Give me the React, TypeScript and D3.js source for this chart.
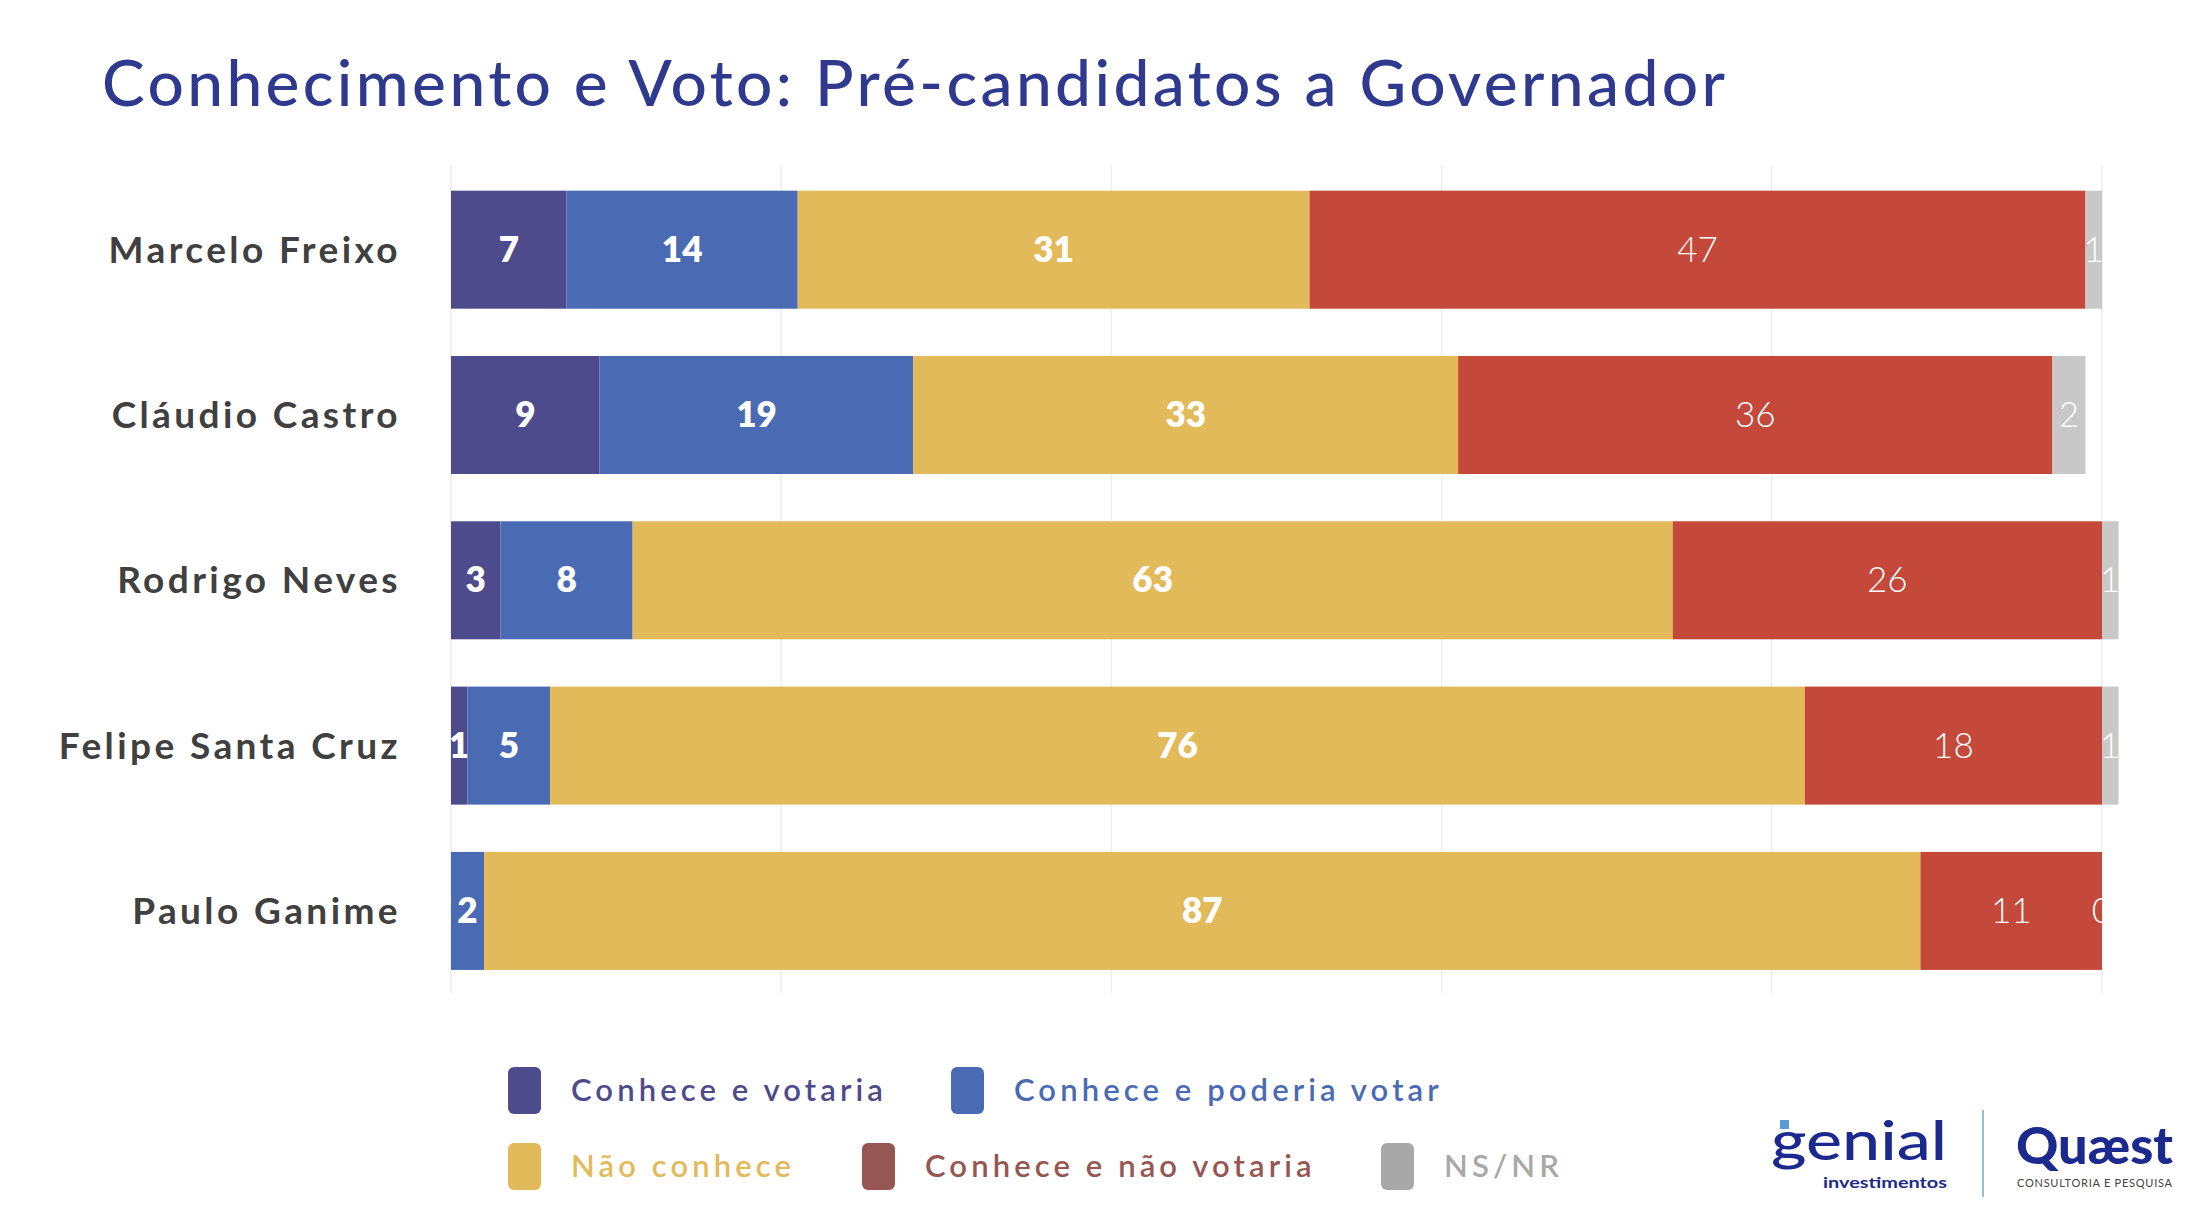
import React from "react";
import * as d3 from "d3";

const categories = ["Marcelo Freixo", "Cláudio Castro", "Rodrigo Neves", "Felipe Santa Cruz", "Paulo Ganime"];
const seriesNames = ["Conhece e votaria", "Conhece e poderia votar", "Não conhece", "Conhece e não votaria", "NS/NR"];
const conheceVotaria = [7, 9, 3, 1, 0];
const conhecePoderia = [14, 19, 8, 5, 2];
const naoConhece = [31, 33, 63, 76, 87];
const conheceNaoVotaria = [47, 36, 26, 18, 11];
const nsnr = [1, 2, 1, 1, 0];
const gridTicks = [0, 20, 40, 60, 80, 100];

const barColors = ["#4E4B8C", "#4A6BB3", "#E3BA5A", "#C4493B", "#C8C8C8"];
const legendColors = ["#4E4B8C", "#4A6BB3", "#E3BA5A", "#965752", "#A8A8A8"];

const W = 2194;
const H = 1218;
const FONT = "Lato, 'Open Sans', sans-serif";

export default function App() {
  const seriesValues = [conheceVotaria, conhecePoderia, naoConhece, conheceNaoVotaria, nsnr];
  const x = d3.scaleLinear().domain([0, 100]).range([451, 2102]);
  const y = d3
    .scaleBand<string>()
    .domain(categories)
    .range([143.4, 1017.2])
    .paddingInner(0.286)
    .paddingOuter(0.286);

  const rows = categories.map((c, i) => {
    const obj: any = { cat: c };
    seriesNames.forEach((s, j) => (obj[s] = seriesValues[j][i]));
    return obj;
  });
  const stacked = d3.stack<any>().keys(seriesNames)(rows);

  const legendItems = [
    { i: 0, x: 508, y: 1090 },
    { i: 1, x: 951, y: 1090 },
    { i: 2, x: 508, y: 1166 },
    { i: 3, x: 862, y: 1166 },
    { i: 4, x: 1381, y: 1166 },
  ];

  return (
    <svg
      width={W}
      height={H}
      viewBox={`0 0 ${W} ${H}`}
      style={{ position: "absolute", left: 0, top: 0, background: "#fff", display: "block" }}
    >
      <rect x={0} y={0} width={W} height={H} fill="#fff" />
      <text
        x={102}
        y={106}
        fontFamily={FONT}
        fontSize={64}
        fontWeight={500}
        fill="#2F3A8F"
        textLength={1623}
        lengthAdjust="spacing"
      >
        Conhecimento e Voto: Pré-candidatos a Governador
      </text>

      {gridTicks.map((t) => (
        <line key={t} x1={x(t)} x2={x(t)} y1={165} y2={993} stroke="#EDEDED" strokeWidth={1.5} />
      ))}

      {categories.map((c) => (
        <text
          key={c}
          x={401}
          y={(y(c) as number) + y.bandwidth() / 2 + 13}
          textAnchor="end"
          fontFamily={FONT}
          fontSize={37}
          fontWeight={700}
          letterSpacing={3.4}
          fill="#404040"
        >
          {c}
        </text>
      ))}

      {stacked.map((layer, si) => (
        <g key={layer.key}>
          {layer.map((d, ci) => (
            <rect
              key={ci}
              x={x(d[0])}
              y={y(categories[ci])}
              width={Math.max(0, x(d[1]) - x(d[0]))}
              height={y.bandwidth()}
              fill={barColors[si]}
            />
          ))}
          {layer.map((d, ci) => (
            <text
              key={"t" + ci}
              x={(x(d[0]) + x(d[1])) / 2}
              y={(y(categories[ci]) as number) + y.bandwidth() / 2 + 12}
              textAnchor="middle"
              fontFamily={FONT}
              fontSize={35}
              fontWeight={si < 3 ? 800 : 300}
              fill="#fff"
            >
              {d[1] - d[0]}
            </text>
          ))}
        </g>
      ))}

      {legendItems.map((it) => (
        <g key={it.i}>
          <rect x={it.x} y={it.y - 23} width={33} height={47} rx={6} fill={legendColors[it.i]} />
          <text
            x={it.x + 63}
            y={it.y + 11}
            fontFamily={FONT}
            fontSize={31}
            fontWeight={600}
            letterSpacing={4.1}
            fill={legendColors[it.i]}
          >
            {seriesNames[it.i]}
          </text>
        </g>
      ))}

      {/* logos */}
      <g>
        <rect x={1780} y={1120} width={9} height={9} fill="#5B9BD5" />
        <text
          x={1771}
          y={1160}
          fontFamily={FONT}
          fontSize={54}
          fontWeight={500}
          fill="#1C2A8E"
          textLength={176}
          lengthAdjust="spacingAndGlyphs"
        >
          genial
        </text>
        <text
          x={1823}
          y={1188}
          fontFamily={FONT}
          fontSize={15}
          fontWeight={700}
          fill="#1C2A8E"
          textLength={124}
          lengthAdjust="spacingAndGlyphs"
        >
          investimentos
        </text>
        <line x1={1983} x2={1983} y1={1110} y2={1197} stroke="#8CC6C8" strokeWidth={2} />
        <text
          x={2016}
          y={1164}
          fontFamily={FONT}
          fontSize={52}
          fontWeight={900}
          fill="#1C2A8E"
          textLength={157}
          lengthAdjust="spacingAndGlyphs"
        >
          Quæst
        </text>
        <text
          x={2017}
          y={1187}
          fontFamily={FONT}
          fontSize={11}
          fill="#444"
          textLength={155}
          lengthAdjust="spacing"
        >
          CONSULTORIA E PESQUISA
        </text>
      </g>
    </svg>
  );
}
